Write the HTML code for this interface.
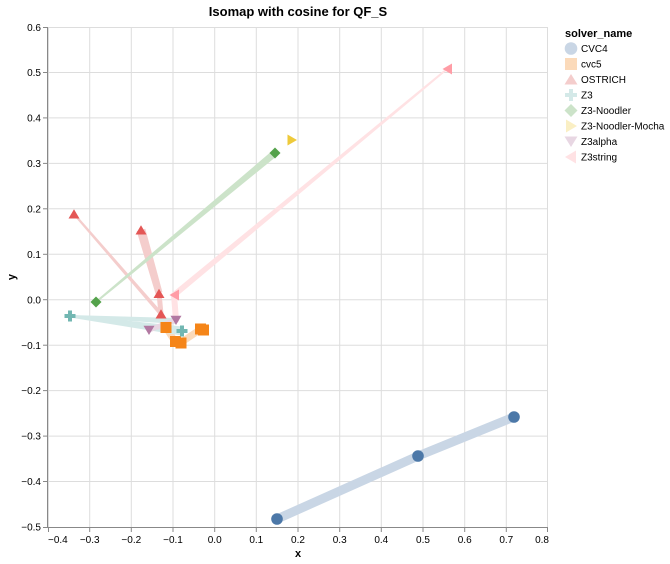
<!DOCTYPE html>
<html><head><meta charset="utf-8"><style>
html,body{margin:0;padding:0;background:#fff;}
svg{display:block;font-family:"Liberation Sans",Arial,sans-serif;}
</style></head><body>
<svg width="670" height="564" viewBox="0 0 670 564" xmlns="http://www.w3.org/2000/svg">
<rect width="670" height="564" fill="#fff"/>
<!-- grid -->
<g stroke="#ddd" stroke-width="1" fill="none">
<line x1="48.5" y1="27" x2="48.5" y2="527"/>
<line x1="89.7" y1="27" x2="89.7" y2="527"/>
<line x1="131.3" y1="27" x2="131.3" y2="527"/>
<line x1="173" y1="27" x2="173" y2="527"/>
<line x1="214.7" y1="27" x2="214.7" y2="527"/>
<line x1="256.3" y1="27" x2="256.3" y2="527"/>
<line x1="298" y1="27" x2="298" y2="527"/>
<line x1="339.7" y1="27" x2="339.7" y2="527"/>
<line x1="381.3" y1="27" x2="381.3" y2="527"/>
<line x1="423" y1="27" x2="423" y2="527"/>
<line x1="464.7" y1="27" x2="464.7" y2="527"/>
<line x1="506.3" y1="27" x2="506.3" y2="527"/>
<line x1="547.5" y1="27" x2="547.5" y2="527"/>
<line x1="48" y1="27.5" x2="548" y2="27.5"/>
<line x1="48" y1="72.5" x2="548" y2="72.5"/>
<line x1="48" y1="117.9" x2="548" y2="117.9"/>
<line x1="48" y1="163.4" x2="548" y2="163.4"/>
<line x1="48" y1="208.8" x2="548" y2="208.8"/>
<line x1="48" y1="254.3" x2="548" y2="254.3"/>
<line x1="48" y1="299.7" x2="548" y2="299.7"/>
<line x1="48" y1="345.2" x2="548" y2="345.2"/>
<line x1="48" y1="390.6" x2="548" y2="390.6"/>
<line x1="48" y1="436.1" x2="548" y2="436.1"/>
<line x1="48" y1="481.5" x2="548" y2="481.5"/>
</g>
<!-- axes -->
<g stroke="#888" stroke-width="1" fill="none">
<line x1="47.5" y1="27" x2="47.5" y2="527.5"/>
<line x1="47.5" y1="527.5" x2="548" y2="527.5"/>
<line x1="43" y1="27.5" x2="48" y2="27.5"/>
<line x1="43" y1="72.5" x2="48" y2="72.5"/>
<line x1="43" y1="117.9" x2="48" y2="117.9"/>
<line x1="43" y1="163.4" x2="48" y2="163.4"/>
<line x1="43" y1="208.8" x2="48" y2="208.8"/>
<line x1="43" y1="254.3" x2="48" y2="254.3"/>
<line x1="43" y1="299.7" x2="48" y2="299.7"/>
<line x1="43" y1="345.2" x2="48" y2="345.2"/>
<line x1="43" y1="390.6" x2="48" y2="390.6"/>
<line x1="43" y1="436.1" x2="48" y2="436.1"/>
<line x1="43" y1="481.5" x2="48" y2="481.5"/>
<line x1="43" y1="527.5" x2="48" y2="527.5"/>
<line x1="48.5" y1="527" x2="48.5" y2="532"/>
<line x1="89.7" y1="527" x2="89.7" y2="532"/>
<line x1="131.3" y1="527" x2="131.3" y2="532"/>
<line x1="173" y1="527" x2="173" y2="532"/>
<line x1="214.7" y1="527" x2="214.7" y2="532"/>
<line x1="256.3" y1="527" x2="256.3" y2="532"/>
<line x1="298" y1="527" x2="298" y2="532"/>
<line x1="339.7" y1="527" x2="339.7" y2="532"/>
<line x1="381.3" y1="527" x2="381.3" y2="532"/>
<line x1="423" y1="527" x2="423" y2="532"/>
<line x1="464.7" y1="527" x2="464.7" y2="532"/>
<line x1="506.3" y1="527" x2="506.3" y2="532"/>
<line x1="547.5" y1="527" x2="547.5" y2="532"/>
</g>
<g font-size="10" fill="#000" text-anchor="end">
<text x="41" y="31">0.6</text>
<text x="41" y="76">0.5</text>
<text x="41" y="121.5">0.4</text>
<text x="41" y="167">0.3</text>
<text x="41" y="212.4">0.2</text>
<text x="41" y="257.9">0.1</text>
<text x="41" y="303.3">0.0</text>
<text x="41" y="348.8">−0.1</text>
<text x="41" y="394.2">−0.2</text>
<text x="41" y="439.7">−0.3</text>
<text x="41" y="485.1">−0.4</text>
<text x="41" y="530.6">−0.5</text>
</g>
<g font-size="10" fill="#000" text-anchor="middle">
<text x="48" y="543" text-anchor="start">−0.4</text>
<text x="89.7" y="543">−0.3</text>
<text x="131.3" y="543">−0.2</text>
<text x="173" y="543">−0.1</text>
<text x="214.7" y="543">0.0</text>
<text x="256.3" y="543">0.1</text>
<text x="298" y="543">0.2</text>
<text x="339.7" y="543">0.3</text>
<text x="381.3" y="543">0.4</text>
<text x="423" y="543">0.5</text>
<text x="464.7" y="543">0.6</text>
<text x="506.3" y="543">0.7</text>
<text x="549" y="543" text-anchor="end">0.8</text>
</g>
<text x="298" y="557" font-size="11" font-weight="bold" text-anchor="middle">x</text>
<text transform="translate(15,277) rotate(-90)" font-size="11" font-weight="bold" text-anchor="middle">y</text>
<text x="298" y="16" font-size="13" font-weight="bold" text-anchor="middle">Isomap with cosine for QF_S</text>

<!-- trails -->
<polyline points="277,519 418,456 514,417" fill="none" stroke="#c9d6e5" stroke-width="9" stroke-linecap="round" stroke-linejoin="round"/>
<polyline points="166,327.5 175,341.5 181,342.5 201,329 203.5,330" fill="none" stroke="#fbdaba" stroke-width="7" stroke-linecap="round" stroke-linejoin="round"/>
<polygon points="73.2,214.7 159.5,315.3 162.5,312.7 74.8,213.3" fill="#f4cdcc"/>
<polygon points="136.7,231.2 155.6,294 162.4,292 145.3,228.8" fill="#f4cdcc"/>
<line x1="159" y1="293" x2="161" y2="314" stroke="#f4cdcc" stroke-width="5" stroke-linecap="round"/>
<polygon points="70,317 175.9,324 176.1,318 70,315" fill="#d4e9e8"/>
<polygon points="69.8,317.5 181.4,335.5 182.6,326.5 70.2,314.5" fill="#d4e9e8"/>
<polygon points="96.6,302.8 277.2,155.7 272.8,150.3 95.4,301.2" fill="#cce3c9"/>
<line x1="149" y1="330" x2="176" y2="320" stroke="#e8d7e3" stroke-width="5" stroke-linecap="round"/>
<polygon points="446.4,68.2 172.1,292.7 175.9,297.3 447.6,69.8" fill="#ffe2e4"/>
<line x1="174" y1="295" x2="176" y2="320" stroke="#ffe2e4" stroke-width="6" stroke-linecap="round"/>

<!-- points -->
<g fill="#4c78a8">
<circle cx="277" cy="519" r="5.8"/>
<circle cx="418" cy="456" r="5.8"/>
<circle cx="514" cy="417" r="5.8"/>
</g>
<g fill="#f58518">
<rect x="160.5" y="322" width="11" height="11"/>
<rect x="170" y="336" width="11" height="11"/>
<rect x="175.5" y="337.5" width="11" height="11"/>
<rect x="195" y="323.5" width="11" height="11"/>
<rect x="198" y="324.5" width="11" height="11"/>
</g>
<g fill="#e45756">
<path d="M74,209.3 L79.5,218.5 L68.5,218.5 Z"/>
<path d="M141,225.3 L146.5,234.5 L135.5,234.5 Z"/>
<path d="M159,288.8 L164.5,298 L153.5,298 Z"/>
<path d="M161,309.3 L166.5,318.5 L155.5,318.5 Z"/>
</g>
<g fill="#72b7b2">
<path d="M64.5,314 H68 V310.5 H72 V314 H75.5 V318 H72 V321.5 H68 V318 H64.5 Z"/>
<path d="M176.5,329 H180 V325.5 H184 V329 H187.5 V333 H184 V336.5 H180 V333 H176.5 Z"/>
</g>
<g fill="#54a24b">
<path d="M96,296.5 L101.5,302 L96,307.5 L90.5,302 Z"/>
<path d="M275,147.5 L280.5,153 L275,158.5 L269.5,153 Z"/>
</g>
<path d="M297,140 L287.5,134.5 L287.5,145.5 Z" fill="#eeca3b"/>
<g fill="#b279a2">
<path d="M149,335 L154.5,325.7 L143.5,325.7 Z"/>
<path d="M176,325 L181.5,315.7 L170.5,315.7 Z"/>
</g>
<g fill="#ff9da6">
<path d="M442.5,69 L452,63.5 L452,74.5 Z"/>
<path d="M169.5,295 L179,289.5 L179,300.5 Z"/>
</g>

<!-- legend -->
<text x="565" y="37" font-size="11" font-weight="bold">solver_name</text>
<g font-size="10" fill="#000">
<text x="581" y="52">CVC4</text>
<text x="581" y="67.5">cvc5</text>
<text x="581" y="83">OSTRICH</text>
<text x="581" y="98.5">Z3</text>
<text x="581" y="114">Z3-Noodler</text>
<text x="581" y="129.5">Z3-Noodler-Mocha</text>
<text x="581" y="145">Z3alpha</text>
<text x="581" y="160.5">Z3string</text>
</g>
<circle cx="571" cy="48.5" r="6.3" fill="#c9d6e5"/>
<rect x="565" y="58" width="12" height="12" fill="#fbdaba"/>
<path d="M571,74 L577.5,84.5 L564.5,84.5 Z" fill="#f4cdcc"/>
<path d="M565,93 H569 V89 H573 V93 H577 V97 H573 V101 H569 V97 H565 Z" fill="#d4e9e8"/>
<path d="M571,104 L577.5,110.5 L571,117 L564.5,110.5 Z" fill="#cce3c9"/>
<path d="M577,126 L566,119.5 L566,132.5 Z" fill="#faefc4"/>
<path d="M571,147 L577.5,136.5 L564.5,136.5 Z" fill="#e8d7e3"/>
<path d="M565,157 L576,150.5 L576,163.5 Z" fill="#ffe2e4"/>
</svg>
</body></html>
